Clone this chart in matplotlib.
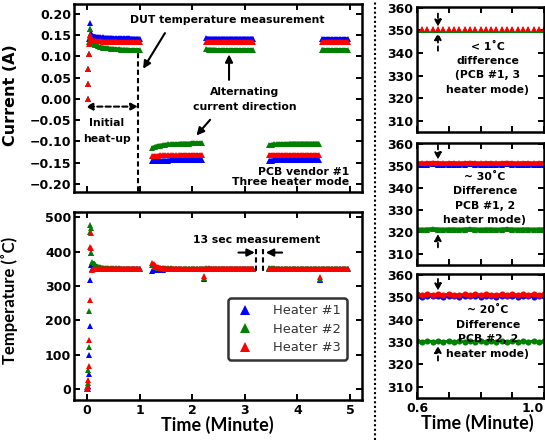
import matplotlib
matplotlib.use('Agg')
import matplotlib.pyplot as plt
from matplotlib.lines import Line2D
from matplotlib.ticker import FuncFormatter

plt.rcParams['font.family'] = ['DejaVu Sans']
plt.rcParams['font.weight'] = 'bold'

BLUE, GREEN, RED = '#0000ff', '#008000', '#ff0000'
SERIES_NAMES = ['Heater #1', 'Heater #2', 'Heater #3']

# ---------------- time bases (minutes) ----------------
T_HEAT_CUR = [0.02, 0.022, 0.024, 0.026, 0.03, 0.045, 0.055, 0.065, 0.08]
T_HEAT_TEMP = [0.00, 0.01, 0.02, 0.03, 0.04, 0.05, 0.06, 0.07, 0.08]
T1 = [0.10, 0.15, 0.20, 0.25, 0.30, 0.35, 0.40, 0.45, 0.50, 0.55, 0.60, 0.65, 0.70, 0.75,
      0.80, 0.85, 0.90, 0.95, 1.00]
T2 = [1.24, 1.29, 1.34, 1.39, 1.44, 1.49, 1.54, 1.59, 1.64, 1.69, 1.74, 1.79, 1.84, 1.89,
      1.94, 1.99, 2.04, 2.09, 2.14, 2.19]
T3 = [2.26, 2.31, 2.36, 2.41, 2.46, 2.51, 2.56, 2.61, 2.66, 2.71, 2.76, 2.81, 2.86, 2.91,
      2.96, 3.01, 3.06, 3.11, 3.16]
T4 = [3.46, 3.51, 3.56, 3.61, 3.66, 3.71, 3.76, 3.81, 3.86, 3.91, 3.96, 4.01, 4.06, 4.11,
      4.16, 4.21, 4.26, 4.31, 4.36, 4.41]
T5 = [4.46, 4.51, 4.56, 4.61, 4.66, 4.71, 4.76, 4.81, 4.86, 4.91, 4.96]
T_DIP = [2.23, 4.43]

# ---------------- current (A) ----------------
I1_HEAT = [0.0, 0.035, 0.07, 0.105, 0.14, 0.178, 0.165, 0.155, 0.150]
I2_HEAT = [0.0, 0.035, 0.07, 0.105, 0.135, 0.165, 0.150, 0.140, 0.133]
I3_HEAT = [0.0, 0.035, 0.07, 0.105, 0.130, 0.150, 0.145, 0.140, 0.138]
I1_S1 = [0.149, 0.147, 0.146, 0.145, 0.145, 0.144, 0.144, 0.144, 0.143, 0.143, 0.143, 0.143,
         0.143, 0.143, 0.143, 0.142, 0.142, 0.142, 0.142]
I2_S1 = [0.130, 0.127, 0.124, 0.122, 0.121, 0.120, 0.119, 0.118, 0.118, 0.117, 0.117, 0.116,
         0.116, 0.116, 0.115, 0.115, 0.115, 0.115, 0.115]
I3_S1 = [0.138, 0.137, 0.136, 0.136, 0.135, 0.135, 0.135, 0.135, 0.135, 0.135, 0.134, 0.134,
         0.134, 0.134, 0.134, 0.134, 0.134, 0.134, 0.134]
I1_S2 = [-0.146, -0.146, -0.145, -0.145, -0.145, -0.145, -0.145, -0.144, -0.144, -0.144,
         -0.144, -0.144, -0.144, -0.144, -0.144, -0.144, -0.144, -0.144, -0.144, -0.144]
I2_S2 = [-0.116, -0.113, -0.111, -0.110, -0.109, -0.108, -0.107, -0.107, -0.106, -0.106,
         -0.106, -0.105, -0.105, -0.105, -0.105, -0.104, -0.104, -0.104, -0.104, -0.104]
I3_S2 = [-0.134, -0.134, -0.134, -0.133, -0.133, -0.133, -0.133, -0.133, -0.133, -0.133,
         -0.133, -0.132, -0.132, -0.132, -0.132, -0.132, -0.132, -0.132, -0.132, -0.132]
I1_S3 = [0.143, 0.142, 0.142, 0.142, 0.142, 0.142, 0.142, 0.142, 0.142, 0.142, 0.142, 0.142,
         0.142, 0.142, 0.142, 0.142, 0.142, 0.142, 0.142]
I2_S3 = [0.117, 0.116, 0.116, 0.116, 0.115, 0.115, 0.115, 0.115, 0.115, 0.115, 0.115, 0.115,
         0.115, 0.115, 0.115, 0.115, 0.115, 0.115, 0.115]
I3_S3 = [0.134, 0.134, 0.134, 0.134, 0.134, 0.134, 0.134, 0.134, 0.134, 0.134, 0.134, 0.134,
         0.134, 0.134, 0.134, 0.134, 0.134, 0.134, 0.134]
I1_S4 = [-0.145, -0.145, -0.144, -0.144, -0.144, -0.144, -0.144, -0.144, -0.144, -0.144,
         -0.144, -0.144, -0.144, -0.144, -0.144, -0.144, -0.144, -0.144, -0.144, -0.144]
I2_S4 = [-0.109, -0.108, -0.107, -0.107, -0.106, -0.106, -0.106, -0.106, -0.105, -0.105,
         -0.105, -0.105, -0.105, -0.105, -0.105, -0.105, -0.105, -0.105, -0.105, -0.105]
I3_S4 = [-0.133, -0.133, -0.133, -0.133, -0.133, -0.133, -0.133, -0.133, -0.133, -0.133,
         -0.133, -0.133, -0.133, -0.133, -0.133, -0.133, -0.133, -0.133, -0.133, -0.133]
I1_S5 = [0.142, 0.142, 0.142, 0.142, 0.142, 0.142, 0.142, 0.142, 0.142, 0.142, 0.142]
I2_S5 = [0.116, 0.115, 0.115, 0.115, 0.115, 0.115, 0.115, 0.115, 0.115, 0.115, 0.115]
I3_S5 = [0.134, 0.134, 0.134, 0.134, 0.134, 0.134, 0.134, 0.134, 0.134, 0.134, 0.134]

# ---------------- temperature (C) ----------------
TB_HEAT = [0, 1, 10, 44, 98, 183, 317, 396, 362]
TG_HEAT = [5, 18, 55, 123, 227, 456, 477, 468, 396]
TR_HEAT = [0, 7, 26, 68, 142, 259, 414, 455, 410]
TB_A = [349, 349, 349, 349, 349, 349, 349, 349, 349, 349, 349, 349, 349, 349, 349, 349, 349, 349, 349]
TG_A = [370, 360, 356, 354, 353, 352, 352, 351, 351, 351, 351, 350, 350, 350, 350, 350, 350, 350, 350]
TR_A = [346, 349, 350, 350, 350, 350, 350, 350, 350, 350, 350, 350, 350, 350, 350, 350, 350, 350, 350]
TB_B = [343, 345, 346, 347, 347, 348, 348, 348, 348, 348, 348, 348, 348, 348, 348, 348, 348, 348, 348, 348]
TG_B = [362, 356, 353, 352, 351, 351, 351, 351, 350, 350, 350, 350, 350, 350, 350, 350, 350, 350, 350, 350]
TR_B = [368, 358, 354, 352, 351, 350, 350, 350, 350, 350, 350, 349, 349, 349, 349, 349, 349, 349, 349, 349]
TB_C = [348, 349, 349, 349, 349, 349, 349, 349, 349, 349, 349, 349, 349, 349, 349, 349, 349, 349, 349]
TG_C = [351, 351, 350, 350, 350, 350, 350, 350, 350, 350, 350, 350, 350, 350, 350, 350, 350, 350, 350]
TR_C = [350, 350, 350, 350, 350, 350, 350, 350, 350, 350, 350, 350, 350, 350, 350, 350, 350, 350, 350]
TB_D = [348, 349, 349, 349, 349, 349, 349, 349, 349, 349, 349, 349, 349, 349, 349, 349, 349, 349, 349, 349]
TG_D = [352, 351, 351, 350, 350, 350, 350, 350, 350, 350, 350, 350, 350, 350, 350, 350, 350, 350, 350, 350]
TR_D = [350, 350, 350, 350, 350, 350, 350, 350, 350, 350, 350, 350, 350, 350, 350, 350, 350, 350, 350, 350]
TB_E = [349, 349, 349, 349, 349, 349, 349, 349, 349, 349, 349]
TG_E = [350, 350, 350, 350, 350, 350, 350, 350, 350, 350, 350]
TR_E = [350, 350, 350, 350, 350, 350, 350, 350, 350, 350, 350]
TB_DIP = [320, 318]
TG_DIP = [322, 320]
TR_DIP = [328, 326]

# ---------------- zoomed panels (0.6 - 1.0 min) ----------------
R_T = [0.600, 0.617, 0.633, 0.650, 0.667, 0.683, 0.700, 0.717, 0.733, 0.750, 0.767, 0.783,
       0.800, 0.817, 0.833, 0.850, 0.867, 0.883, 0.900, 0.917, 0.933, 0.950, 0.967, 0.983, 1.000]
P1_H1 = [350.2, 350.1, 350.2, 350.2, 350.1, 350.2, 350.3, 350.2, 350.1, 350.2, 350.2, 350.1, 350.2,
         350.3, 350.2, 350.2, 350.1, 350.2, 350.2, 350.1, 350.2, 350.3, 350.2, 350.2, 350.1]
P1_H2 = [350.3, 350.2, 350.3, 350.3, 350.2, 350.3, 350.2, 350.3, 350.3, 350.2, 350.3, 350.3, 350.2,
         350.3, 350.3, 350.2, 350.3, 350.3, 350.2, 350.3, 350.3, 350.2, 350.3, 350.3, 350.2]
P1_H3 = [350.6, 350.5, 350.6, 350.6, 350.5, 350.6, 350.6, 350.5, 350.6, 350.6, 350.5, 350.6, 350.6,
         350.5, 350.6, 350.6, 350.5, 350.6, 350.6, 350.5, 350.6, 350.6, 350.5, 350.6, 350.6]
P2_H1 = [350.6, 350.5, 350.6, 350.7, 350.6, 350.5, 350.6, 350.6, 350.5, 350.6, 350.7, 350.6, 350.5,
         350.6, 350.6, 350.5, 350.6, 350.7, 350.6, 350.5, 350.6, 350.6, 350.5, 350.6, 350.6]
P2_H2 = [321.1, 321.0, 321.1, 321.2, 321.1, 321.0, 321.1, 321.1, 321.0, 321.1, 321.2, 321.1, 321.0,
         321.1, 321.1, 321.0, 321.1, 321.2, 321.1, 321.0, 321.1, 321.1, 321.0, 321.1, 321.1]
P2_H3 = [351.2, 351.1, 351.2, 351.3, 351.2, 351.1, 351.2, 351.2, 351.1, 351.2, 351.3, 351.2, 351.1,
         351.2, 351.2, 351.1, 351.2, 351.3, 351.2, 351.1, 351.2, 351.2, 351.1, 351.2, 351.2]
P3_H1 = [350.4, 350.3, 350.4, 350.5, 350.4, 350.3, 350.4, 350.4, 350.3, 350.4, 350.5, 350.4, 350.3,
         350.4, 350.4, 350.3, 350.4, 350.5, 350.4, 350.3, 350.4, 350.4, 350.3, 350.4, 350.4]
P3_H2 = [330.3, 330.1, 330.4, 330.2, 330.3, 330.1, 330.4, 330.2, 330.3, 330.1, 330.4, 330.2, 330.3,
         330.1, 330.4, 330.2, 330.3, 330.1, 330.4, 330.2, 330.3, 330.1, 330.4, 330.2, 330.3]
P3_H3 = [351.4, 351.0, 351.5, 351.1, 351.3, 350.9, 351.5, 351.2, 351.0, 351.4, 351.1, 351.5, 351.0,
         351.3, 351.2, 350.9, 351.4, 351.1, 351.5, 351.0, 351.3, 351.2, 351.4, 351.0, 351.3]

# ---------------- figure ----------------
W, H = 545.0, 440.0
fig = plt.figure(figsize=(W / 100, H / 100), dpi=100)
fig.patch.set_facecolor('white')


def px_axes(x0, y0, x1, y1):
    return fig.add_axes([x0 / W, 1 - y1 / H, (x1 - x0) / W, (y1 - y0) / H])


ax1 = px_axes(74, 4, 362, 192)
ax2 = px_axes(74, 212, 362, 400)
axr = [px_axes(417, 7, 544, 132), px_axes(417, 143, 544, 265), px_axes(417, 274, 544, 398)]


def style(ax, pad_y=2):
    for s in ax.spines.values():
        s.set_linewidth(1.8)
    ax.tick_params(direction='in', top=True, right=True, length=4, width=1.4,
                   labelsize=9, pad=3)
    ax.tick_params(axis='y', pad=pad_y)


MS = 4.6
BAND_LW = 3.0
COLORS = [BLUE, GREEN, RED]


def draw_segments(ax, times, segs, color, label=None):
    for T, vals in zip(times, segs):
        ax.plot(T, vals, ls='-', lw=BAND_LW, solid_capstyle='butt', marker='^', ms=MS,
                mew=0, color=color, label=label)
        label = None


# current panel
I_HEATS = [I1_HEAT, I2_HEAT, I3_HEAT]
I_SEGS = [[I1_S1, I1_S2, I1_S3, I1_S4, I1_S5],
          [I2_S1, I2_S2, I2_S3, I2_S4, I2_S5],
          [I3_S1, I3_S2, I3_S3, I3_S4, I3_S5]]
for heat, segs, c in zip(I_HEATS, I_SEGS, COLORS):
    ax1.plot(T_HEAT_CUR, heat, ls='none', marker='^', ms=MS, mew=0, color=c)
    draw_segments(ax1, [T1, T2, T3, T4, T5], segs, c)
ax1.set_xlim(-0.25, 5.23)
ax1.set_ylim(-0.219, 0.2235)
ax1.set_xticks([0, 1, 2, 3, 4, 5])
ax1.set_xticklabels([])
ax1.set_yticks([-0.20, -0.15, -0.10, -0.05, 0.0, 0.05, 0.10, 0.15, 0.20])
ax1.yaxis.set_major_formatter(FuncFormatter(lambda v, p: ('%.2f' % v).replace('-', '\u2212')))
style(ax1)
ax1.set_ylabel('Current (A)', fontsize=11.5, fontweight='bold')
ax1.yaxis.set_label_coords(-0.196, 0.516)

# temperature panel
T_HEATS = [TB_HEAT, TG_HEAT, TR_HEAT]
T_SEGS = [[TB_A, TB_B + TB_C, TB_D + TB_E],
          [TG_A, TG_B + TG_C, TG_D + TG_E],
          [TR_A, TR_B + TR_C, TR_D + TR_E]]
T_DIPS = [TB_DIP, TG_DIP, TR_DIP]
for heat, segs, dip, c in zip(T_HEATS, T_SEGS, T_DIPS, COLORS):
    ax2.plot(T_HEAT_TEMP, heat, ls='none', marker='^', ms=MS, mew=0, color=c)
    draw_segments(ax2, [T1, T2 + T3, T4 + T5], segs, c)
    ax2.plot(T_DIP, dip, ls='none', marker='^', ms=MS, mew=0, color=c)
ax2.set_xlim(-0.25, 5.23)
ax2.set_ylim(-32, 515)
ax2.set_xticks([0, 1, 2, 3, 4, 5])
ax2.set_yticks([0, 100, 200, 300, 400, 500])
style(ax2)
ax2.set_ylabel('Temperature (\u02daC)', fontsize=12, fontweight='bold', family=['Lato', 'DejaVu Sans'])
ax2.yaxis.set_label_coords(-0.196, 0.53)
ax2.set_xlabel('Time (Minute)', fontsize=13, fontweight='bold', family=['Lato', 'DejaVu Sans'])
ax2.xaxis.set_label_coords(0.498, -0.085)

leg_handles = [Line2D([], [], ls='none', marker='^', ms=6.5, mew=0, color=c) for c in COLORS]
leg = ax2.legend(leg_handles, SERIES_NAMES, loc='lower right', bbox_to_anchor=(0.947, 0.213),
                 borderaxespad=0, numpoints=1, handlelength=1.7, handletextpad=1.3,
                 labelspacing=0.42, borderpad=0.45, fancybox=True, framealpha=1,
                 prop={'size': 9.4, 'weight': 'normal'})
leg.get_frame().set_edgecolor('#333333')
leg.get_frame().set_linewidth(1.8)
for t in leg.get_texts():
    t.set_color('#333333')

# zoom panels
R_DATA = [(P1_H1, P1_H2, P1_H3), (P2_H1, P2_H2, P2_H3), (P3_H1, P3_H2, P3_H3)]
R_STYLE = [dict(ls='none', marker='^', ms=MS),
           dict(ls='-', lw=3.2, marker='^', ms=MS),
           dict(ls='-', lw=2.0, marker='o', ms=4.4)]
for ax, vals3, st in zip(axr, R_DATA, R_STYLE):
    for vals, c in zip(vals3, COLORS):
        ax.plot(R_T, vals, mew=0, color=c, solid_capstyle='butt', **st)
    ax.set_xlim(0.6, 1.0)
    ax.set_ylim(305, 360.4)
    ax.set_yticks([310, 320, 330, 340, 350, 360])
    ax.set_xticks([0.6, 0.7, 0.8, 0.9, 1.0])
    style(ax, pad_y=3)
    ax.set_xticklabels([])
axr[2].set_xticklabels(['0.6', '', '', '', '1.0'])
axr[2].get_xticklabels()[-1].set_horizontalalignment('right')
axr[2].set_xlabel('Time (Minute)', fontsize=13, fontweight='bold', family=['Lato', 'DejaVu Sans'])
axr[2].xaxis.set_label_coords(0.478, -0.13)

# ---------------- annotations ----------------
AFS = 7.8
solid = dict(arrowstyle='-|>', color='k', lw=1.5, shrinkA=0, shrinkB=0, mutation_scale=11)

ax1.text(2.67, 0.186, 'DUT temperature measurement', ha='center', va='center', fontsize=AFS)
ax1.annotate('', xy=(1.065, 0.071), xytext=(1.48, 0.155), arrowprops=solid)
ax1.plot([0.97, 0.97], [0.108, -0.23], color='k', ls=(0, (2.5, 1.5)), lw=1.5)
ax1.annotate('', xy=(-0.03, -0.018), xytext=(0.97, -0.018),
             arrowprops=dict(arrowstyle='<|-|>', color='k', lw=1.5, ls=(0, (2.5, 1.5)),
                             shrinkA=0, shrinkB=0, mutation_scale=10))
ax1.text(0.37, -0.075, 'Initial\nheat-up', ha='center', va='center', fontsize=AFS, linespacing=1.7)
ax1.text(3.0, -0.001, 'Alternating\ncurrent direction', ha='center', va='center', fontsize=AFS,
         linespacing=1.6)
ax1.annotate('', xy=(2.7, 0.105), xytext=(2.7, 0.045), arrowprops=solid)
ax1.annotate('', xy=(2.08, -0.086), xytext=(2.34, -0.049), arrowprops=solid)
ax1.text(4.99, -0.184, 'PCB vendor #1\nThree heater mode', ha='right', va='center',
         fontsize=AFS, linespacing=1.0, multialignment='right')

ax2.text(3.22, 433, '13 sec measurement', ha='center', va='center', fontsize=AFS)
ax2.annotate('', xy=(3.19, 397), xytext=(2.88, 397), arrowprops=solid)
ax2.annotate('', xy=(3.40, 397), xytext=(3.71, 397), arrowprops=solid)
for tx in (3.21, 3.35):
    ax2.plot([tx, tx], [406, 336], color='k', ls=(0, (2.5, 1.5)), lw=1.5)

dashed = dict(arrowstyle='-|>', color='k', lw=1.3, ls=(0, (2.5, 2)), shrinkA=0, shrinkB=0,
              mutation_scale=10)
R_ARROWS = [((357.5, 351.6), (341.0, 349.0)), ((359.5, 352.8), (313.0, 319.2)),
            ((358.2, 352.9), (321.7, 328.4))]
for ax, ((d0, d1), (u0, u1)) in zip(axr, R_ARROWS):
    ax.annotate('', xy=(0.666, d1), xytext=(0.666, d0), arrowprops=dashed)
    ax.annotate('', xy=(0.666, u1), xytext=(0.666, u0), arrowprops=dashed)

R_TEXTS = ['< 1\u02daC\ndifference\n(PCB #1, 3\nheater mode)',
           '~ 30\u02daC\nDifference\nPCB #1, 2\nheater mode)',
           '~ 20\u02daC\nDifference\nPCB #2, 2\nheater mode)']
R_TPOS = [(0.823, 333.3), (0.813, 335.2), (0.823, 334.5)]
for ax, txt, (tx, ty) in zip(axr, R_TEXTS, R_TPOS):
    ax.text(tx, ty, txt, ha='center', va='center', fontsize=AFS, linespacing=1.55)

# dotted separator
fig.add_artist(Line2D([375 / W, 375 / W], [0, 1], transform=fig.transFigure, color='k',
                      lw=1.5, ls=(0, (1, 1.2))))

fig.savefig('out.png', dpi=100, facecolor='white')
